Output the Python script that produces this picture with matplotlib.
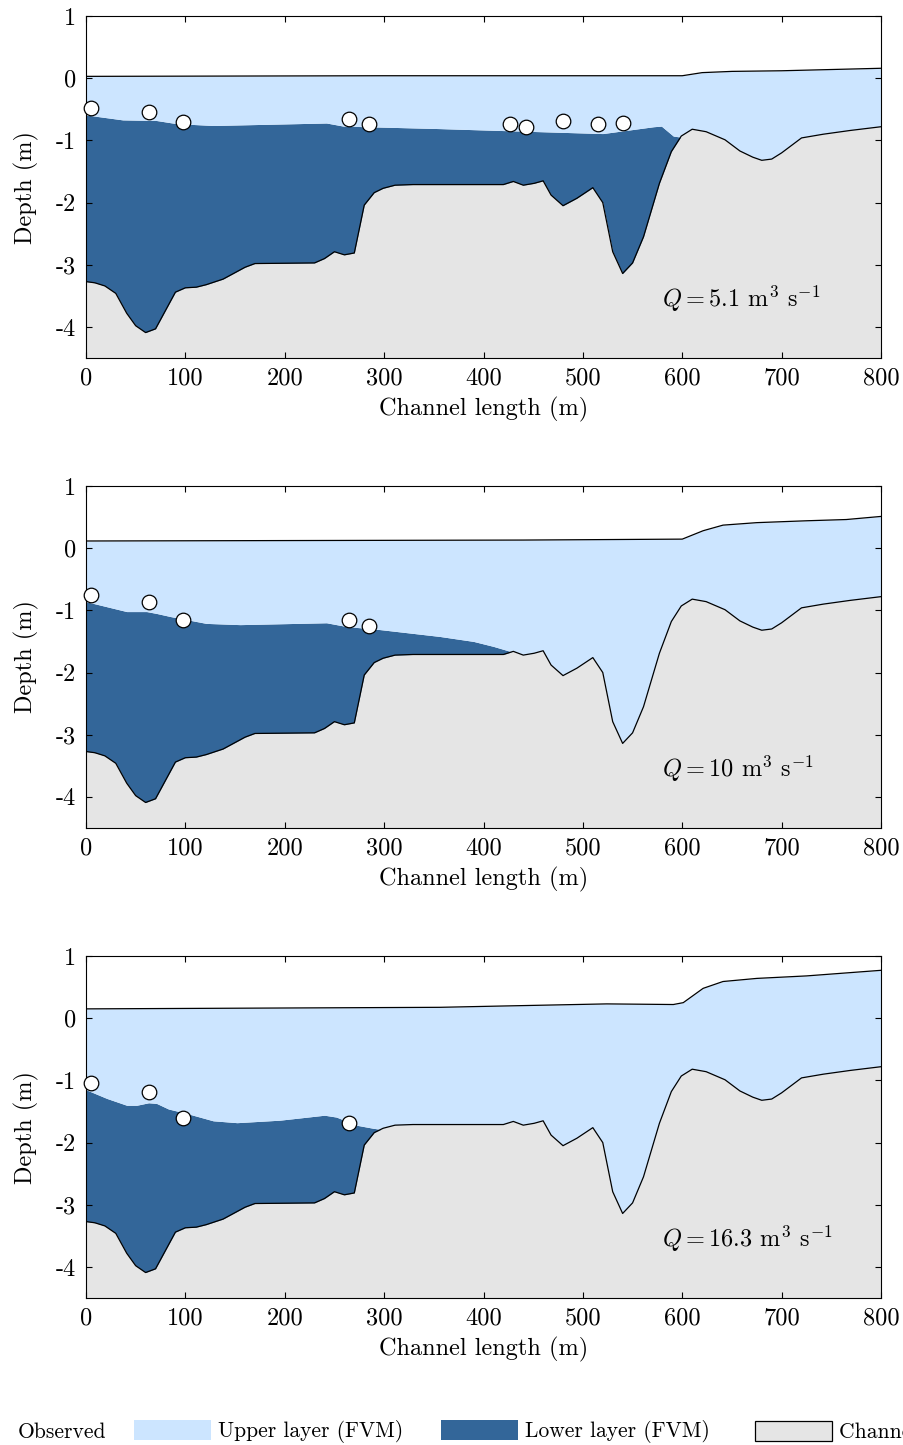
import numpy as np
import matplotlib
matplotlib.use("Agg")
import matplotlib.pyplot as plt
from matplotlib.lines import Line2D
from matplotlib.patches import Patch

plt.rcParams["font.family"] = ["cmr10", "DejaVu Serif"]
plt.rcParams["mathtext.fontset"] = "cm"
plt.rcParams["axes.unicode_minus"] = False
plt.rcParams["font.size"] = 17.5

# channel bed (same in all panels)
x_bed = [0, 9, 19, 30, 41, 50, 60, 70, 90, 100, 111, 121, 138, 160, 170, 230,
         240, 250, 260, 270, 280, 290, 299, 311, 329, 420, 430, 440, 451, 460,
         468, 480, 494, 510, 520, 530, 540, 550, 561, 577, 589, 599, 610, 624,
         643, 658, 671, 680, 690, 700, 720, 742, 769, 800]
z_bed = [-3.27, -3.29, -3.34, -3.46, -3.78, -3.98, -4.09, -4.03, -3.44, -3.37,
         -3.36, -3.32, -3.23, -3.04, -2.98, -2.97, -2.90, -2.79, -2.84, -2.81,
         -2.04, -1.84, -1.77, -1.72, -1.71, -1.71, -1.66, -1.72, -1.69, -1.65,
         -1.88, -2.05, -1.93, -1.76, -2.00, -2.79, -3.14, -2.97, -2.55, -1.69,
         -1.18, -0.93, -0.82, -0.86, -0.99, -1.17, -1.27, -1.32, -1.30, -1.20,
         -0.96, -0.90, -0.84, -0.78]

flows = ["5.1", "10", "16.3"]

# free surface per run
surf_x = [
    [0, 300, 600, 620, 650, 700, 800],
    [0, 440, 600, 621, 641, 675, 725, 765, 800],
    [0, 356, 416, 524, 591, 601, 621, 641, 675, 725, 800],
]
surf_z = [
    [0.03, 0.04, 0.04, 0.09, 0.11, 0.12, 0.16],
    [0.115, 0.13, 0.145, 0.28, 0.37, 0.41, 0.44, 0.46, 0.51],
    [0.15, 0.175, 0.195, 0.23, 0.22, 0.25, 0.48, 0.59, 0.64, 0.68, 0.77],
]

# interface between upper and lower layer
int_x = [
    [0, 37, 71, 91, 128, 242, 259, 356, 396, 520, 571, 579, 591, 600],
    [0, 41, 61, 71, 85, 121, 155, 242, 262, 296, 356, 390, 410, 427, 432],
    [0, 21, 41, 51, 63, 71, 83, 101, 128, 152, 195, 240, 252, 272, 289, 302],
]
int_z = [
    [-0.59, -0.67, -0.68, -0.73, -0.76, -0.72, -0.77, -0.81, -0.83, -0.89,
     -0.78, -0.77, -0.93, -0.95],
    [-0.86, -1.02, -1.02, -1.05, -1.10, -1.21, -1.23, -1.20, -1.26, -1.31,
     -1.42, -1.50, -1.58, -1.66, -1.70],
    [-1.15, -1.29, -1.40, -1.40, -1.36, -1.37, -1.46, -1.53, -1.65, -1.68,
     -1.64, -1.56, -1.59, -1.72, -1.77, -1.80],
]

# observed interface depths
obs_x = [
    [5, 63, 98, 265, 285, 427, 443, 480, 515, 540],
    [5, 63, 98, 265, 285],
    [5, 63, 98, 265],
]
obs_z = [
    [-0.48, -0.55, -0.71, -0.66, -0.74, -0.73, -0.78, -0.69, -0.74, -0.72],
    [-0.76, -0.86, -1.15, -1.16, -1.25],
    [-1.04, -1.18, -1.61, -1.69],
]

c_upper = "#cce5ff"
c_lower = "#336699"
c_bed = "#e5e5e5"
ymin, ymax = -4.5, 1

fig = plt.figure(figsize=(9.04, 14.45), dpi=100)
bottoms = [0.7522, 0.4270, 0.1017]

xg = np.union1d(np.linspace(0, 800, 1601), x_bed)
bed_g = np.interp(xg, x_bed, z_bed)

for i in range(3):
    ax = fig.add_axes([0.0951, bottoms[i], 0.8795, 0.2367])
    surf_g = np.interp(xg, surf_x[i], surf_z[i])
    int_g = np.interp(xg, int_x[i], int_z[i], right=-10)
    top_lower = np.maximum(int_g, bed_g)

    ax.fill_between(x_bed, z_bed, ymin, color=c_bed, lw=0)
    ax.fill_between(xg, bed_g, top_lower, where=top_lower > bed_g,
                    color=c_lower, lw=0)
    ax.fill_between(xg, top_lower, surf_g, color=c_upper, lw=0)
    ax.plot(x_bed, z_bed, color="k", lw=0.9)
    ax.plot(surf_x[i], surf_z[i], color="k", lw=0.9)
    ax.plot(obs_x[i], obs_z[i], "o", ms=10.5, mfc="white", mec="k",
            mew=0.9, clip_on=False, zorder=5)

    ax.text(580, -3.55, r"$Q = %s$ m$^3$ s$^{-1}$" % flows[i],
            va="center", ha="left")

    ax.set_xlim(0, 800)
    ax.set_ylim(ymin, ymax)
    ax.set_xticks(np.arange(0, 801, 100))
    ax.set_yticks(np.arange(-4, 2, 1))
    ax.tick_params(direction="in", top=True, right=True, length=4, pad=7)
    ax.set_xlabel("Channel length (m)", labelpad=5)
    ax.set_ylabel("Depth (m)", labelpad=12)

# legend entries, placed one by one along the bottom edge
handles = [
    Line2D([], [], ls="none", marker="o", ms=10.5, mfc="white", mec="k"),
    Patch(facecolor=c_upper, edgecolor="none"),
    Patch(facecolor=c_lower, edgecolor="none"),
    Patch(facecolor=c_bed, edgecolor="k", lw=0.9),
]
labels = ["Observed", "Upper layer (FVM)", "Lower layer (FVM)", "Channel bed"]
leg_left = [-66, 134, 441, 755]
for h, lab, xl in zip(handles, labels, leg_left):
    leg = fig.legend([h], [lab], frameon=False, loc="center left",
                     bbox_to_anchor=(xl / 904, 0.009), borderpad=0,
                     borderaxespad=0, fontsize=15.5, handlelength=3.58,
                     handleheight=1.0, handletextpad=0.33)

fig.savefig("out.png", dpi=100)
